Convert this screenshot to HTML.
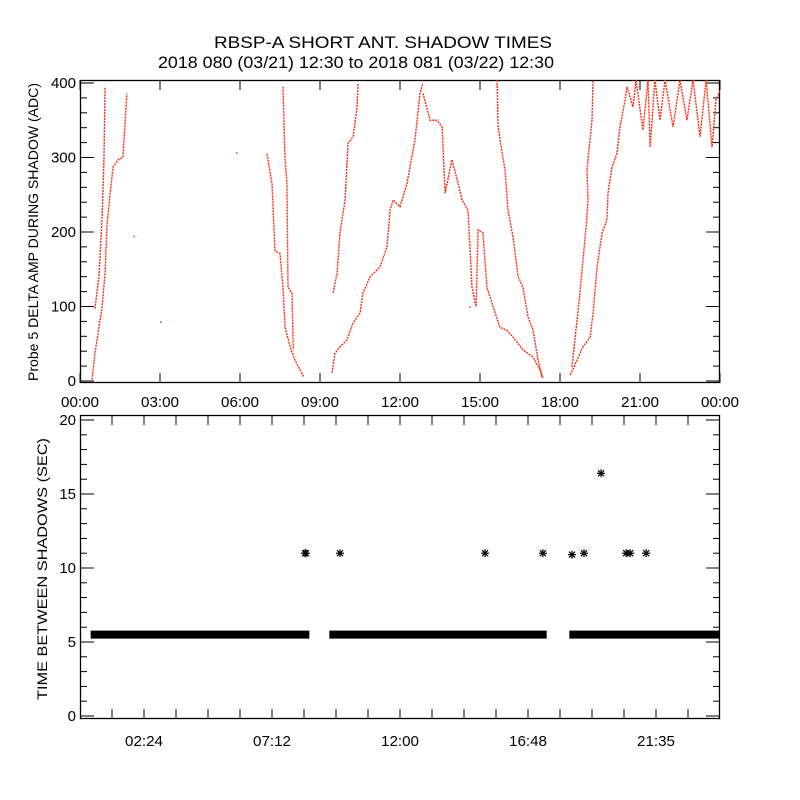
<!DOCTYPE html>
<html><head><meta charset="utf-8"><style>
body{margin:0;background:#fff}
svg{display:block;font-family:"Liberation Sans",sans-serif}
</style></head><body>
<svg id="c" width="800" height="800" viewBox="0 0 800 800">
<rect width="800" height="800" fill="#fff"/>
<text x="383" y="48" font-size="17" text-anchor="middle" textLength="338" lengthAdjust="spacingAndGlyphs">RBSP-A SHORT ANT. SHADOW TIMES</text>
<text x="356" y="68" font-size="17" text-anchor="middle" textLength="396" lengthAdjust="spacingAndGlyphs">2018 080 (03/21) 12:30 to 2018 081 (03/22) 12:30</text>
<text transform="translate(38,232) rotate(-90)" font-size="14" text-anchor="middle" textLength="298" lengthAdjust="spacingAndGlyphs">Probe 5 DELTA AMP DURING SHADOW (ADC)</text>
<text transform="translate(47,569) rotate(-90)" font-size="14" text-anchor="middle" textLength="262" lengthAdjust="spacingAndGlyphs">TIME BETWEEN SHADOWS (SEC)</text>
<g id="top"></g><g id="bot"></g>
</svg>
<script>
// ---- top panel data: [hour, ADC value] segments ----
const segA1=[[0.45,2],[0.56,37],[0.71,72],[0.83,100],[0.94,145],[1.01,207],[1.13,252],[1.24,287],[1.43,297],[1.61,300],[1.76,386]];
const segA2=[[0.56,97],[0.71,140],[0.83,220],[0.9,300],[0.94,395]];
const segB1=[[7.01,305],[7.2,265],[7.31,175],[7.5,171],[7.61,126],[7.69,72],[7.88,46],[8.06,28],[8.25,15],[8.4,5]];
const segB2=[[7.61,395],[7.69,297],[7.76,265],[7.8,126],[7.95,118],[8.0,42]];
const segC1=[[9.45,11],[9.56,37],[9.75,46],[10.01,55],[10.24,78],[10.5,91],[10.61,118],[10.88,140],[11.25,153],[11.51,180],[11.63,229],[11.74,243],[12.0,234],[12.26,265],[12.56,323],[12.75,386],[12.86,400]];
const segC2=[[9.49,118],[9.64,145],[9.75,199],[9.94,243],[10.05,319],[10.24,328],[10.39,368],[10.43,400]];
const segD1=[[12.86,386],[13.13,350],[13.39,350],[13.58,341],[13.69,252],[13.95,297],[14.18,265],[14.33,243],[14.55,229],[14.7,126],[14.85,100],[14.93,203],[15.11,199],[15.26,126],[15.49,100],[15.75,72],[16.01,68],[16.24,59],[16.61,42],[16.99,32],[17.25,15],[17.36,4]];
const segD2=[[15.64,404],[15.68,341],[15.83,306],[15.94,283],[16.05,229],[16.24,193],[16.43,140],[16.61,126],[16.8,86],[16.99,68],[17.18,28],[17.33,5]];
const segE1=[[18.38,8],[18.64,28],[18.86,46],[19.13,59],[19.24,91],[19.39,153],[19.58,199],[19.76,216],[19.8,252],[19.95,287],[20.14,306],[20.25,341],[20.44,377],[20.51,395]];
const segE2=[[18.45,19],[18.64,82],[18.75,118],[18.86,162],[18.98,207],[19.05,243],[19.01,283],[19.2,350],[19.24,404]];
const segF=[[20.51,395],[20.74,368],[20.85,404],[21.11,337],[21.3,404],[21.38,314],[21.56,404],[21.75,350],[21.94,404],[22.24,341],[22.5,404],[22.76,350],[22.99,404],[23.25,328],[23.48,404],[23.7,314],[23.85,377],[24,390]];
const topSeries=[segA1,segA2,segB1,segB2,segC1,segC2,segD1,segD2,segE1,segE2,segF];
const strayPts=[[2.0,195],[3.0,80],[5.85,307],[14.6,100]];
const topYTicks=[0,100,200,300,400];
const topXLabels=["00:00","03:00","06:00","09:00","12:00","15:00","18:00","21:00","00:00"];
// ---- bottom panel data ----
const bandStart=[0.4,9.35,18.35];
const bandEnd=[8.6,17.5,24];
const bandValue=[5.5,5.5,5.5];
const outlierHours=[8.44,8.47,9.75,15.19,17.36,18.45,18.9,19.54,20.48,20.63,21.23];
const outlierValues=[11,11,11,11,11,10.9,11,16.4,11,11,11];
const botYTicks=[0,5,10,15,20];
const botXLabels=["02:24","07:12","12:00","16:48","21:35"];

const NS="http://www.w3.org/2000/svg";
function mk(tag,attrs,parent){const e=document.createElementNS(NS,tag);for(const k in attrs)e.setAttribute(k,attrs[k]);parent.appendChild(e);return e;}
const L=80,R=720;
const xs=h=>L+h/24*(R-L);
const yT=v=>381-v*0.745;
const yB=v=>716-v*14.8;
const gT=document.getElementById('top'),gB=document.getElementById('bot');

let f=mk('rect',{x:80.5,y:80.5,width:639,height:302,fill:'none',stroke:'#000','stroke-width':1.3},gT);


for(let v=0;v<=400;v+=20){const y=yT(v);const len=v%100===0?14:7;
 mk('line',{x1:80,x2:80+len,y1:y,y2:y,stroke:'#000'},gT);mk('line',{x1:720,x2:720-len,y1:y,y2:y,stroke:'#000'},gT);}
topYTicks.forEach(v=>{const t=mk('text',{x:76,y:yT(v)+5,'font-size':15,'text-anchor':'end'},gT);t.textContent=v;
 
 });
topXLabels.forEach((s,i)=>{const x=xs(i*3);
 mk('line',{x1:x,x2:x,y1:383,y2:373,stroke:'#000'},gT);mk('line',{x1:x,x2:x,y1:80,y2:90,stroke:'#000'},gT);
 const t=mk('text',{x:x,y:407,'font-size':15,'text-anchor':'middle',textLength:38,lengthAdjust:'spacingAndGlyphs'},gT);t.textContent=s;
 
 });
topSeries.forEach(seg=>{const p=mk('polyline',{points:seg.map(d=>xs(d[0])+','+yT(d[1])).join(' '),fill:'none',stroke:'#ff2a10','stroke-width':1.4,'stroke-dasharray':'2 1'},gT);
 
 });
strayPts.forEach(d=>{const r=mk('rect',{x:xs(d[0]),y:yT(d[1]),width:1.5,height:1.5,fill:'#ff2a10'},gT);
 
 });

f=mk('rect',{x:80.5,y:415.5,width:639,height:303,fill:'none',stroke:'#000','stroke-width':1.3},gB);


for(let v=0;v<=20;v++){const y=yB(v);const len=v%5===0?14:7;
 mk('line',{x1:80,x2:80+len,y1:y,y2:y,stroke:'#000'},gB);mk('line',{x1:720,x2:720-len,y1:y,y2:y,stroke:'#000'},gB);}
botYTicks.forEach(v=>{const t=mk('text',{x:76,y:yB(v)+5,'font-size':15,'text-anchor':'end'},gB);t.textContent=v;
 
 });
for(let i=1;i<20;i++){const x=xs(i*1.2);
 mk('line',{x1:x,x2:x,y1:719,y2:709,stroke:'#000'},gB);mk('line',{x1:x,x2:x,y1:415,y2:425,stroke:'#000'},gB);}
botXLabels.forEach((s,i)=>{const t=mk('text',{x:xs(2.4+i*4.8),y:746,'font-size':15,'text-anchor':'middle',textLength:38,lengthAdjust:'spacingAndGlyphs'},gB);t.textContent=s;
 
 });
bandStart.forEach((s,i)=>{const x1=xs(s),x2=xs(bandEnd[i]),y=yB(bandValue[i]);
 const r=mk('rect',{x:x1,y:y-4,width:x2-x1,height:8,fill:'#000'},gB);
 
 });
function star(x,y){const g=mk('g',{stroke:'#000','stroke-width':1.2},gB);
 
 
 mk('line',{x1:x-4,x2:x+4,y1:y,y2:y},g);mk('line',{x1:x,x2:x,y1:y-4,y2:y+4},g);
 mk('line',{x1:x-3,x2:x+3,y1:y-3,y2:y+3},g);mk('line',{x1:x-3,x2:x+3,y1:y+3,y2:y-3},g);}
outlierHours.forEach((h,i)=>star(xs(h),yB(outlierValues[i])));
</script>
</body></html>
